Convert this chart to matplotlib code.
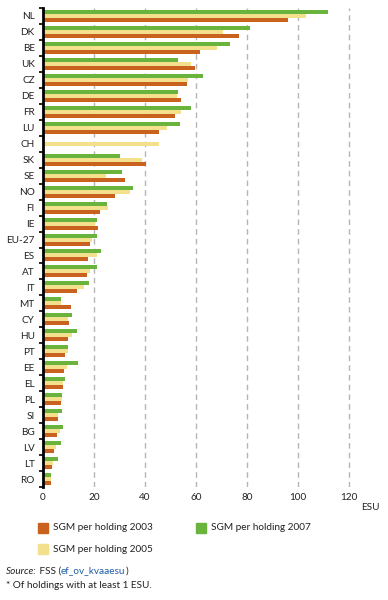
import numpy as np
import matplotlib
matplotlib.use("Agg")
from matplotlib import pyplot as plt
from matplotlib.patches import Rectangle

plt.rcParams['font.family'] = ['Lato', 'DejaVu Sans']

countries = ["NL", "DK", "BE", "UK", "CZ", "DE", "FR", "LU", "CH", "SK",
             "SE", "NO", "FI", "IE", "EU-27", "ES", "AT", "IT", "MT", "CY",
             "HU", "PT", "EE", "EL", "PL", "SI", "BG", "LV", "LT", "RO"]
sgm_2003 = [96.0, 76.8, 61.4, 59.5, 56.3, 54.0, 51.6, 45.4, 0.0, 40.3,
            32.0, 28.1, 22.2, 21.4, 18.3, 17.5, 17.1, 13.2, 10.9, 10.1,
            9.7, 8.5, 8.1, 7.7, 6.9, 5.7, 5.3, 4.2, 3.4, 3.0]
sgm_2005 = [103.0, 70.5, 68.0, 58.0, 57.0, 52.4, 54.0, 48.5, 45.4, 38.7,
            24.6, 34.0, 25.4, 20.3, 19.1, 21.0, 18.3, 15.9, 6.9, 9.7,
            11.2, 9.7, 9.3, 7.7, 7.3, 5.7, 6.5, 5.0, 3.8, 3.0]
sgm_2007 = [111.6, 81.0, 73.2, 52.8, 62.6, 52.8, 57.9, 53.6, 0.0, 30.1,
            30.9, 35.2, 25.0, 21.0, 21.0, 22.6, 21.0, 17.9, 6.9, 11.2,
            13.2, 9.7, 13.6, 8.5, 7.3, 7.3, 7.7, 6.9, 5.7, 3.0]

c_2003 = "#c9611f"
c_2005 = "#f2e08c"
c_2007 = "#6ab43e"
txt = "#222222"
fs = 7.2

W, H = 388, 600
fig = plt.figure(figsize=(3.88, 6.0), dpi=100)
ax = fig.add_axes([43 / W, 1 - 487 / H, (362 - 43) / W, (487 - 8) / H])

y = np.arange(len(countries))
bh = 0.25
ax.barh(y - bh, sgm_2007, height=bh, color=c_2007, zorder=3)
ax.barh(y, sgm_2005, height=bh, color=c_2005, zorder=3)
ax.barh(y + bh, sgm_2003, height=bh, color=c_2003, zorder=3)

ax.set_xlim(0, 125)
ax.set_ylim(len(countries) - 0.5, -0.5)

ax.set_yticks(y)
ax.set_yticklabels(countries, fontsize=fs, color=txt)
ax.set_yticks(np.arange(len(countries) + 1) - 0.5, minor=True)
ax.tick_params(axis="y", which="major", length=0, pad=6)
ax.tick_params(axis="y", which="minor", length=3, width=1.2, color="black")

ax.set_xticks(np.arange(0, 121, 20))
ax.set_xticklabels([str(v) for v in range(0, 121, 20)], fontsize=fs, color=txt)
ax.tick_params(axis="x", length=0, pad=4)
ax.grid(axis="x", color="#b5b5b5", linestyle=(0, (4, 3)), linewidth=1, zorder=0)

for s in ["top", "right", "bottom"]:
    ax.spines[s].set_visible(False)
ax.spines["left"].set_linewidth(2)
ax.spines["left"].set_zorder(4)

fig.text(361 / W, 1 - 507 / H, "ESU", fontsize=fs, color=txt, va="center", ha="left")

# legend
leg = [("SGM per holding 2003", c_2003, 38, 528),
       ("SGM per holding 2007", c_2007, 196, 528),
       ("SGM per holding 2005", c_2005, 38, 549)]
for label, col, lx, ly in leg:
    fig.add_artist(Rectangle((lx / W, 1 - (ly + 5) / H), 10 / W, 10 / H,
                             transform=fig.transFigure, color=col))
    fig.text((lx + 15) / W, 1 - ly / H, label, fontsize=fs, color=txt, va="center")

# source line, pieces placed one after the other
fig.canvas.draw()
r = fig.canvas.get_renderer()
xpos = 6 / W
for piece, style, col in [("Source:", "italic", txt), ("\u00a0FSS (", "normal", txt),
                          ("ef_ov_kvaaesu", "normal", "#1f5fa8"), (")", "normal", txt)]:
    t = fig.text(xpos, 1 - 571 / H, piece, fontsize=fs, style=style, color=col, va="center")
    bb = t.get_window_extent(renderer=r)
    xpos = bb.x1 / W
fig.text(6 / W, 1 - 586 / H, "* Of holdings with at least 1 ESU.", fontsize=fs,
         color=txt, va="center")

fig.savefig("out.png", dpi=100)
